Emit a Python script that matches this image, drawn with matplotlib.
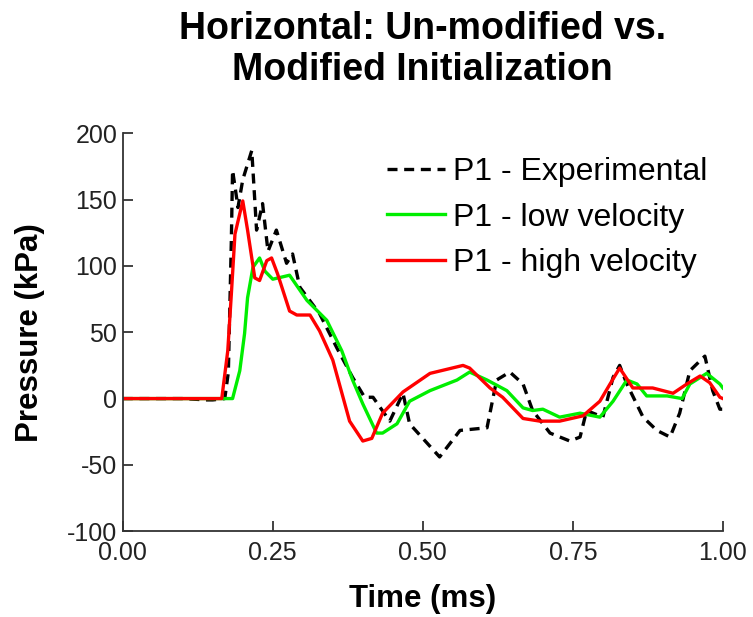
import numpy as np
import matplotlib.pyplot as plt

plt.rcParams['font.family'] = ['Liberation Sans', 'DejaVu Sans']
plt.rcParams['axes.unicode_minus'] = False

# P1 - Experimental (time in ms, pressure in kPa)
t_exp = [0.0, 0.10, 0.14, 0.15, 0.17, 0.176, 0.181, 0.183, 0.187, 0.192, 0.20, 0.215,
         0.223, 0.233, 0.242, 0.256, 0.273, 0.283, 0.295, 0.328, 0.357, 0.383,
         0.403, 0.417, 0.445, 0.467, 0.478, 0.528, 0.562, 0.607, 0.623, 0.645,
         0.667, 0.683, 0.712, 0.745, 0.762, 0.773, 0.80, 0.817, 0.828, 0.84,
         0.867, 0.89, 0.912, 0.928, 0.945, 0.97, 0.983, 0.995, 1.0]
p_exp = [0, 0, -1, -1, 0, 20, 120, 172, 160, 144, 165, 187,
         127, 147, 111, 127, 102, 109, 84, 64, 38, 16,
         1, 1, -17, 4, -19, -44, -24, -22, 14, 20,
         11, -9, -26, -32, -29, -9, -14, 16, 25, 11,
         -14, -24, -29, -11, 21, 32, 6, -8, -8]

# P1 - low velocity
t_low = [0.0, 0.183, 0.195, 0.203, 0.208, 0.217, 0.228, 0.237, 0.25, 0.278,
         0.307, 0.34, 0.365, 0.383, 0.40, 0.423, 0.433, 0.457, 0.478, 0.512,
         0.557, 0.578, 0.607, 0.64, 0.667, 0.683, 0.70, 0.728, 0.762, 0.795,
         0.817, 0.84, 0.857, 0.873, 0.907, 0.932, 0.945, 0.973, 0.995, 1.0]
p_low = [0, 0, 21, 49, 76, 99, 106, 96, 90, 93,
         74, 59, 36, 14, -4, -26, -26, -19, -2, 6,
         14, 20, 14, 6, -7, -9, -8, -14, -11, -14,
         -2, 14, 11, 2, 2, 0, 11, 19, 11, 8]

# P1 - high velocity
t_high = [0.0, 0.165, 0.175, 0.181, 0.187, 0.20, 0.208, 0.22, 0.228, 0.24,
          0.248, 0.258, 0.278, 0.29, 0.312, 0.328, 0.35, 0.378, 0.40, 0.415,
          0.433, 0.467, 0.512, 0.567, 0.578, 0.612, 0.633, 0.667, 0.695, 0.728,
          0.767, 0.795, 0.812, 0.828, 0.85, 0.883, 0.917, 0.94, 0.962, 0.978,
          0.995, 1.0]
p_high = [0, 0, 36, 79, 124, 149, 127, 91, 89, 104,
          106, 94, 66, 63, 63, 51, 29, -17, -32, -30,
          -11, 5, 19, 25, 23, 8, 1, -15, -17, -17,
          -13, -2, 11, 23, 8, 8, 4, 11, 17, 12,
          1, 0]

fig = plt.figure(figsize=(7.53, 6.17), dpi=100)
ax = fig.add_axes([0.163, 0.139, 0.797, 0.645])

ax.plot(t_exp, p_exp, color='black', lw=2.4, dashes=(3, 2), label='P1 - Experimental')
ax.plot(t_low, p_low, color='#00ee00', lw=2.4, label='P1 - low velocity')
ax.plot(t_high, p_high, color='#ff0000', lw=2.4, label='P1 - high velocity')

ax.set_xlim(0, 1)
ax.set_ylim(-100, 200)
ax.set_xticks([0, 0.25, 0.5, 0.75, 1.0])
ax.set_xticklabels(['0.00', '0.25', '0.50', '0.75', '1.00'])
ax.set_yticks(np.arange(-100, 201, 50))
ax.tick_params(direction='in', length=7, width=1.2, labelsize=18, colors='#222222')
ax.tick_params(axis='x', pad=7)
ax.tick_params(axis='y', pad=4)
for s in ['top', 'right']:
    ax.spines[s].set_visible(False)
for s in ['left', 'bottom']:
    ax.spines[s].set_linewidth(1.3)
    ax.spines[s].set_color('#333333')

ax.set_xlabel('Time (ms)', fontsize=22.5, fontweight='bold', labelpad=14)
ax.set_ylabel('Pressure (kPa)', fontsize=22.5, fontweight='bold', labelpad=16)
ax.set_title('Horizontal: Un-modified vs.\nModified Initialization',
             fontsize=27, fontweight='bold', pad=38, linespacing=1.2)

ax.legend(loc='upper right', frameon=False, fontsize=23, handlelength=1.8,
          handletextpad=0.25, labelspacing=0.48, borderaxespad=0,
          bbox_to_anchor=(0.995, 0.972))

fig.savefig('out.png', dpi=100)
